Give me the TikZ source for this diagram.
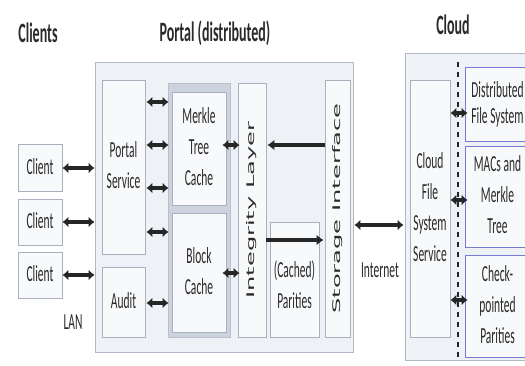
\documentclass[tikz,border=0pt]{standalone}
\usepackage{fontspec}
\usepackage{graphicx}
\setmainfont{Carlito}
\newfontfamily\vfont{DejaVu Sans}
\usetikzlibrary{arrows.meta}
% stretched text, as in the reference
\newcommand{\tl}[1]{\scalebox{1}[2]{\begin{tabular}{@{}c@{}}#1\end{tabular}}}
\newcommand{\rt}[1]{\rotatebox{90}{\scalebox{2.3}[1]{\vfont\fontsize{10.5}{12}\selectfont #1}}}
\definecolor{boxline}{HTML}{A9B0BE}
\definecolor{boxfill}{HTML}{F8F9FB}
\definecolor{outfill}{HTML}{EEF1F6}
\definecolor{cachefill}{HTML}{CDD3DE}
\definecolor{txt}{HTML}{2A2A2A}
\tikzset{
  box/.style={draw=boxline, fill=boxfill, line width=0.9pt, inner sep=0pt, text=txt,
    font=\fontsize{11.5}{15.5}\selectfont},
  outer/.style={draw=boxline!90, fill=outfill, line width=0.9pt, inner sep=0pt},
  title/.style={font=\bfseries\fontsize{14}{16}\selectfont, text=txt},
  dar/.style={{Latex[length=6pt,width=11pt]}-{Latex[length=6pt,width=11pt]}, line width=3.4pt, black!85},
  sar/.style={-{Latex[length=7pt,width=11pt]}, line width=3.2pt, black!85},
}
\begin{document}
\begin{tikzpicture}[x=1pt,y=-1pt]
  \useasboundingbox (0,0) rectangle (525,365);
  \fill[white] (0,0) rectangle (525,365);
  % titles
  \node[title] (tcl) at (38,33) {\scalebox{1}[2]{Clients}};
  \node[title] (tpo) at (215,33) {\scalebox{1}[2]{Portal (distributed)}};
  \node[title] (tcd) at (453,25) {\scalebox{1}[2]{Cloud}};
  % containers
  \node[outer, minimum width=258, minimum height=290] (portal) at (224,207) {};
  \node[outer, minimum width=124, minimum height=307] (cloud) at (467,206.5) {};
  % clients
  \node[box, minimum width=44, minimum height=47] (c1) at (40,168) {\tl{Client}};
  \node[box, minimum width=44, minimum height=46] (c2) at (40,222) {\tl{Client}};
  \node[box, minimum width=44, minimum height=46] (c3) at (40,275) {\tl{Client}};
  % portal
  \node[box, minimum width=43, minimum height=174] (psvc) at (123.5,167) {\tl{Portal\\Service}};
  \node[box, minimum width=43, minimum height=70] (audit) at (123.5,302) {\tl{Audit}};
  \node[box, draw=boxline!80, fill=cachefill, minimum width=62, minimum height=254] (cache) at (199,210) {};
  \node[box, minimum width=54, minimum height=113] (merkle) at (199,148.5) {\tl{Merkle\\Tree\\Cache}};
  \node[box, minimum width=54, minimum height=119] (block) at (199,272.5) {\tl{Block\\Cache}};
  \node[box, minimum width=28, minimum height=254] (integ) at (252,210) {\rt{Integrity Layer}};
  \node[box, minimum width=49, minimum height=115] (parit) at (294.5,279.5) {};
  \node[text=txt, font=\fontsize{11.5}{15.5}\selectfont] (tpar) at (294.5,287) {\tl{(Cached)\\Parities}};
  \node[box, minimum width=25, minimum height=257] (stor) at (337.5,208.5) {\rt{Storage Interface}};
  % cloud
  \node[box, minimum width=40, minimum height=257] (cfs) at (430,208.5) {\tl{Cloud\\File\\System\\Service}};
  \node[box, draw=boxline!70!blue, minimum width=65, minimum height=74] (dfs) at (497.5,104) {\scalebox{1}[2]{\begin{tabular}{@{}c@{}}Distributed\\[-2.5pt]File System\end{tabular}}};
  \node[box, draw=boxline!70!blue, minimum width=65, minimum height=101] (macs) at (497.5,196.5) {\tl{MACs and\\Merkle\\Tree}};
  \node[box, draw=boxline!70!blue, minimum width=65, minimum height=102] (ckpt) at (497.5,306) {\tl{Check-\\pointed\\Parities}};
  \draw[black!85, line width=1.8pt, dash pattern=on 5pt off 5pt] (458,62) -- (458,358);
  % labels
  \node[text=txt, font=\fontsize{11.5}{14}\selectfont] (lan) at (73,322) {\scalebox{1}[2]{LAN}};
  \node[text=txt, font=\fontsize{11.5}{14}\selectfont] (inet) at (380,270) {\scalebox{1}[2]{Internet}};
  % connectors
  \draw[dar] (c1.east) -- (c1.east -| portal.west);
  \draw[dar] (c2.east) -- (c2.east -| portal.west);
  \draw[dar] (c3.east) -- (c3.east -| portal.west);
  \foreach \y in {102,145,188,232}
    \draw[dar, shorten <=1pt, shorten >=-1pt] (psvc.east |- 0,\y) -- (cache.west |- 0,\y);
  \draw[dar, shorten <=1pt, shorten >=-1pt] (audit.east |- 0,303) -- (cache.west |- 0,303);
  \draw[dar, shorten <=-4pt, shorten >=-2pt] (merkle.east |- 0,145) -- (integ.west |- 0,145);
  \draw[dar, shorten <=-4pt, shorten >=-2pt] (block.east |- 0,273) -- (integ.west |- 0,273);
  \draw[sar, shorten >=1pt] (stor.west |- 0,145) -- (integ.east |- 0,145);
  \draw[sar, shorten >=1pt] (integ.east |- 0,240) -- (stor.west |- 0,240);
  \draw[dar, shorten <=1pt, shorten >=1pt] (portal.east |- 0,225) -- (cloud.west |- 0,225);
  \draw[dar, shorten <=0pt, shorten >=-3pt] (cfs.east |- 0,113) -- (dfs.west |- 0,113);
  \draw[dar, shorten <=0pt, shorten >=-3pt] (cfs.east |- 0,200) -- (macs.west |- 0,200);
  \draw[dar, shorten <=0pt, shorten >=-3pt] (cfs.east |- 0,300) -- (ckpt.west |- 0,300);
\end{tikzpicture}
\end{document}
